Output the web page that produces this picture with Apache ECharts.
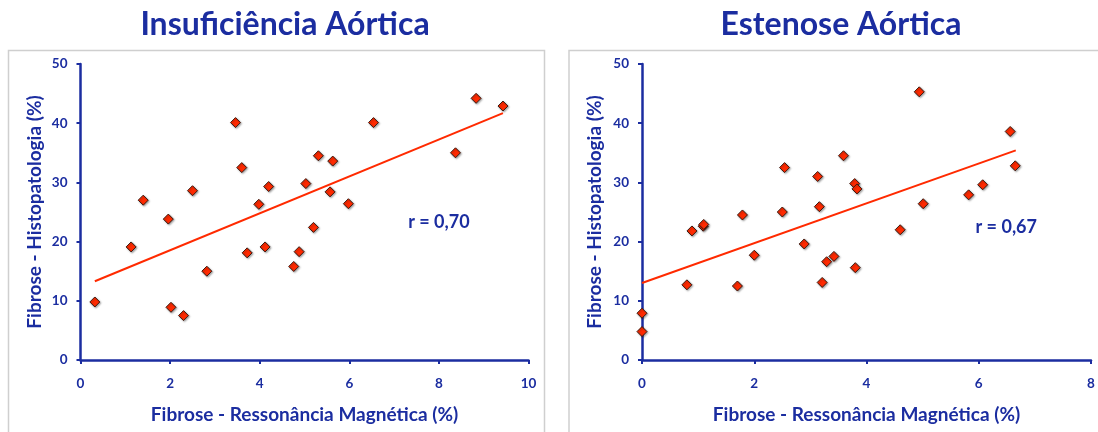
<!DOCTYPE html>
<html><head><meta charset="utf-8">
<script src="https://cdn.jsdelivr.net/npm/echarts@6/dist/echarts.min.js"></script>
<style>html,body{margin:0;padding:0;background:#fff}#c{width:1098px;height:432px}</style>
</head><body><div id="c"></div>
<script>
// Insuficiência Aórtica
const irX = [0.32,1.13,1.40,1.96,2.02,2.30,2.50,2.82,3.46,3.60,3.72,3.98,4.12,4.20,4.76,4.88,5.03,5.20,5.31,5.57,5.63,5.98,6.54,8.37,8.83,9.43];
const irY = [9.8,19.1,27.0,23.8,8.9,7.5,28.6,15.0,40.1,32.5,18.1,26.3,19.1,29.3,15.8,18.3,29.8,22.4,34.5,28.4,33.6,26.4,40.1,35.0,44.2,42.9];
const irTrendX = [0.32, 9.43];
const irTrendY = [13.3, 41.7];
// Estenose Aórtica
const esX = [0,0,0.80,0.89,1.09,1.10,1.70,1.79,2.00,2.50,2.54,2.89,3.13,3.16,3.21,3.29,3.42,3.59,3.79,3.80,3.83,4.60,4.94,5.01,5.82,6.07,6.56,6.65];
const esY = [7.9,4.8,12.7,21.8,22.6,22.9,12.5,24.5,17.7,25.0,32.5,19.6,31.0,25.9,13.1,16.6,17.5,34.5,29.8,15.6,28.9,22.0,45.3,26.4,27.9,29.6,38.6,32.8];
const esTrendX = [0, 6.66];
const esTrendY = [13.0, 35.4];
const titles = ['Insuficiência Aórtica', 'Estenose Aórtica'];
const xName = 'Fibrose - Ressonância Magnética (%)';
const yName = 'Fibrose - Histopatologia (%)';
const rLabels = ['r = 0,70', 'r = 0,67'];
const rPos = [[8.0, 23.2], [6.49, 22.5]];
const xMax = [10, 8];

const BLUE = '#1b2da0';
const RED = '#ff2a00';
const FONT = 'Lato';

const zip = (a, b) => a.map((v, i) => [v, b[i]]);

const grids = [
  {left: 80.5, top: 64, width: 448, height: 296},
  {left: 642, top: 64, width: 449, height: 296}
];
function xAxis(i) {
  return {
    gridIndex: i, type: 'value', min: 0, max: xMax[i], interval: 2,
    name: xName, nameLocation: 'middle', nameGap: 45,
    nameTextStyle: {color: BLUE, fontFamily: FONT, fontWeight: 'bold', fontSize: 19},
    axisLine: {onZero: false, lineStyle: {color: BLUE, width: 2.5}},
    axisTick: {show: true, length: 4, lineStyle: {color: BLUE, width: 2}},
    axisLabel: {color: BLUE, fontFamily: FONT, fontWeight: 'bold', fontSize: 13.5, margin: 17},
    splitLine: {show: false}
  };
}
function yAxis(i) {
  return {
    gridIndex: i, type: 'value', min: 0, max: 50, interval: 10,
    name: yName, nameLocation: 'middle', nameGap: i === 0 ? 36 : 38,
    nameTextStyle: {color: BLUE, fontFamily: FONT, fontWeight: 'bold', fontSize: 19},
    axisLine: {show: true, onZero: false, lineStyle: {color: BLUE, width: 2.5}},
    axisTick: {show: true, length: 4, lineStyle: {color: BLUE, width: 2}},
    axisLabel: {color: BLUE, fontFamily: FONT, fontWeight: 'bold', fontSize: 13.5, margin: 13},
    splitLine: {show: false}
  };
}
function scatter(i, data) {
  return {
    type: 'scatter', xAxisIndex: i, yAxisIndex: i, data: data,
    symbol: 'diamond', symbolSize: 10,
    itemStyle: {color: RED, opacity: 1, borderColor: '#3a1a10', borderWidth: 1,
      shadowColor: 'rgba(0,0,0,0.35)', shadowBlur: 2, shadowOffsetX: 1, shadowOffsetY: 1},
    z: 3
  };
}
function trend(i, data) {
  return {
    type: 'line', xAxisIndex: i, yAxisIndex: i, data: data,
    symbol: 'none', lineStyle: {color: RED, width: 2}, z: 2
  };
}
function rText(i) {
  return {
    type: 'scatter', xAxisIndex: i, yAxisIndex: i, data: [rPos[i]],
    symbolSize: 0, silent: true,
    itemStyle: {opacity: 1},
    label: {show: true, position: 'inside', formatter: rLabels[i], color: BLUE,
      fontFamily: FONT, fontWeight: 'bold', fontSize: 18}
  };
}

const chart = echarts.init(document.getElementById('c'), null, {renderer: 'canvas'});
chart.setOption({
  animation: false,
  backgroundColor: '#fff',
  title: [
    {text: titles[0], left: 280, top: 4, textAlign: 'center',
      textStyle: {color: BLUE, fontFamily: FONT, fontWeight: 'bold', fontSize: 32}},
    {text: titles[1], left: 836, top: 4, textAlign: 'center',
      textStyle: {color: BLUE, fontFamily: FONT, fontWeight: 'bold', fontSize: 32}}
  ],
  graphic: [
    {type: 'rect', shape: {x: 8.5, y: 50.5, width: 536, height: 400},
      style: {fill: 'none', stroke: '#cfcfcf', lineWidth: 1.5}, z: -1},
    {type: 'rect', shape: {x: 569, y: 50.5, width: 540, height: 400},
      style: {fill: 'none', stroke: '#cfcfcf', lineWidth: 1.5}, z: -1}
  ],
  grid: grids,
  xAxis: [xAxis(0), xAxis(1)],
  yAxis: [yAxis(0), yAxis(1)],
  series: [
    trend(0, zip(irTrendX, irTrendY)),
    scatter(0, zip(irX, irY)),
    rText(0),
    trend(1, zip(esTrendX, esTrendY)),
    scatter(1, zip(esX, esY)),
    rText(1)
  ]
});
</script></body></html>
